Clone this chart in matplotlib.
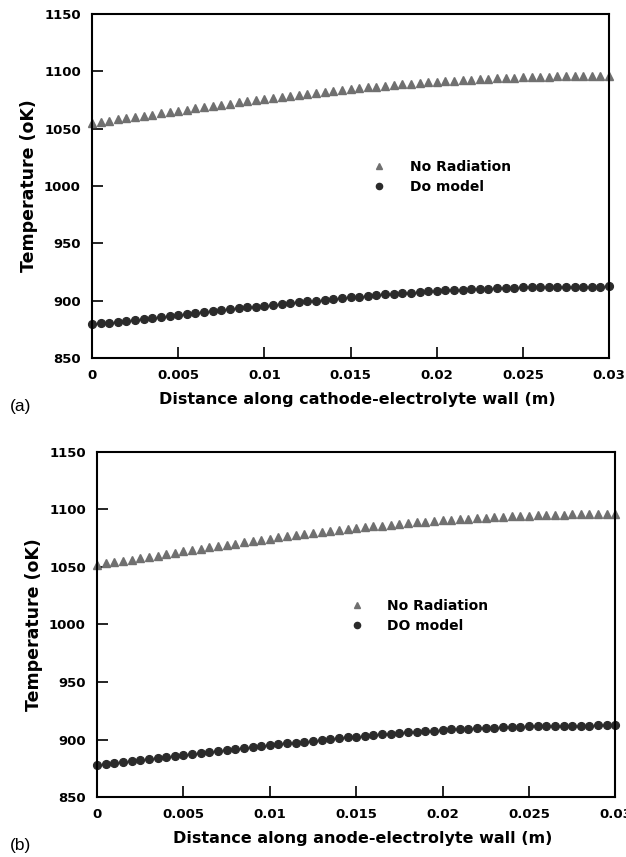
import numpy as np
import matplotlib.pyplot as plt

# %% Data
x_pos = np.linspace(0.0, 0.03, 61)

# (a) cathode-electrolyte wall
a_norad = [1055.0, 1056.0, 1057.0, 1058.0, 1059.0, 1060.0,
           1061.1, 1062.2, 1063.3, 1064.4, 1065.5,
           1066.6, 1067.6, 1068.7, 1069.7, 1070.8,
           1071.8, 1072.8, 1073.8, 1074.8, 1075.8,
           1076.7, 1077.6, 1078.5, 1079.5, 1080.4,
           1081.2, 1082.0, 1082.9, 1083.7, 1084.5,
           1085.2, 1085.9, 1086.6, 1087.3, 1088.0,
           1088.6, 1089.2, 1089.8, 1090.4, 1091.0,
           1091.5, 1091.9, 1092.3, 1092.8, 1093.2,
           1093.5, 1093.8, 1094.2, 1094.5, 1094.8,
           1095.0, 1095.2, 1095.4, 1095.6, 1095.8,
           1095.9, 1096.0, 1096.0, 1096.1, 1096.2]
a_do = [879.3, 880.1, 880.9, 881.8, 882.6, 883.4,
        884.2, 885.1, 885.9, 886.8, 887.6,
        888.4, 889.3, 890.1, 891.0, 891.8,
        892.6, 893.3, 894.1, 894.8, 895.6,
        896.4, 897.1, 897.9, 898.6, 899.4,
        900.1, 900.8, 901.5, 902.2, 902.9,
        903.5, 904.1, 904.8, 905.4, 906.0,
        906.5, 907.0, 907.5, 908.0, 908.5,
        908.9, 909.2, 909.6, 909.9, 910.3,
        910.5, 910.8, 911.0, 911.3, 911.5,
        911.6, 911.7, 911.9, 912.0, 912.1,
        912.2, 912.2, 912.3, 912.3, 912.4]

# (b) anode-electrolyte wall
b_norad = [1052.0, 1053.1, 1054.2, 1055.3, 1056.4, 1057.5,
           1058.7, 1059.9, 1061.1, 1062.3, 1063.5,
           1064.7, 1065.8, 1067.0, 1068.1, 1069.3,
           1070.4, 1071.5, 1072.5, 1073.6, 1074.7,
           1075.7, 1076.6, 1077.6, 1078.5, 1079.5,
           1080.4, 1081.2, 1082.1, 1082.9, 1083.8,
           1084.5, 1085.3, 1086.0, 1086.8, 1087.5,
           1088.1, 1088.7, 1089.4, 1090.0, 1090.6,
           1091.1, 1091.6, 1092.0, 1092.5, 1093.0,
           1093.3, 1093.7, 1094.0, 1094.4, 1094.7,
           1094.9, 1095.1, 1095.4, 1095.6, 1095.8,
           1095.9, 1096.0, 1096.1, 1096.2, 1096.3]
b_do = [877.8, 878.6, 879.5, 880.3, 881.2, 882.0,
        882.9, 883.8, 884.8, 885.7, 886.6,
        887.5, 888.4, 889.2, 890.1, 891.0,
        891.8, 892.6, 893.4, 894.2, 895.0,
        895.8, 896.6, 897.3, 898.1, 898.9,
        899.6, 900.3, 901.1, 901.8, 902.5,
        903.1, 903.8, 904.4, 905.1, 905.7,
        906.2, 906.7, 907.3, 907.8, 908.3,
        908.7, 909.1, 909.4, 909.8, 910.2,
        910.4, 910.7, 910.9, 911.2, 911.4,
        911.5, 911.6, 911.8, 911.9, 912.0,
        912.1, 912.1, 912.2, 912.2, 912.3]

x_ticks = [0, 0.005, 0.01, 0.015, 0.02, 0.025, 0.03]
x_ticklabels = ['0', '0.005', '0.01', '0.015', '0.02', '0.025', '0.03']
y_ticks = [850, 900, 950, 1000, 1050, 1100, 1150]

# tag, xlabel, DO label, series, axes rect, legend anchor (axes fraction)
panels = [
    ('(a)', 'Distance along cathode-electrolyte wall (m)', 'Do model', a_norad, a_do,
     [0.147, 0.5823, 0.826, 0.4014], (0.542, 0.526)),
    ('(b)', 'Distance along anode-electrolyte wall (m)', 'DO model', b_norad, b_do,
     [0.155, 0.070, 0.828, 0.4026], (0.488, 0.525)),
]

plt.rcParams['font.family'] = ['DejaVu Sans']

fig = plt.figure(figsize=(6.26, 8.57), dpi=100)

for tag, xlab, do_name, norad, do, rect, leg_at in panels:
    ax = fig.add_axes(rect)
    ax.plot(x_pos, norad, linestyle='none', marker='^', markersize=5.6,
            color='#707070', label='No Radiation', clip_on=False)
    ax.plot(x_pos, do, linestyle='none', marker='o', markersize=5.6,
            color='#2b2b2b', label=do_name, clip_on=False)
    ax.set_xlim(0, 0.03)
    ax.set_ylim(850, 1150)
    ax.set_xticks(x_ticks)
    ax.set_xticklabels(x_ticklabels)
    ax.set_yticks(y_ticks)
    for s in ax.spines.values():
        s.set_linewidth(1.5)
    ax.tick_params(direction='in', length=8, width=1.2, labelsize=9.5, pad=8)
    for lab in ax.get_xticklabels() + ax.get_yticklabels():
        lab.set_fontweight('bold')
    ax.set_xlabel(xlab, fontsize=11.5, fontweight='bold', labelpad=7)
    ax.xaxis.label.set_x(0.513)
    ax.set_ylabel('Temperature (oK)', fontsize=12.5, fontweight='bold', labelpad=4)
    ax.legend(loc='center left', bbox_to_anchor=leg_at, frameon=False,
              prop={'weight': 'bold', 'size': 10}, borderpad=0, borderaxespad=0,
              handlelength=1.0, handletextpad=1.7, labelspacing=0.45,
              markerscale=0.8)
    fig.text(0.015, rect[1] - 0.062, tag, fontsize=12.5, family='Liberation Sans')

fig.savefig('out.png', dpi=100)
